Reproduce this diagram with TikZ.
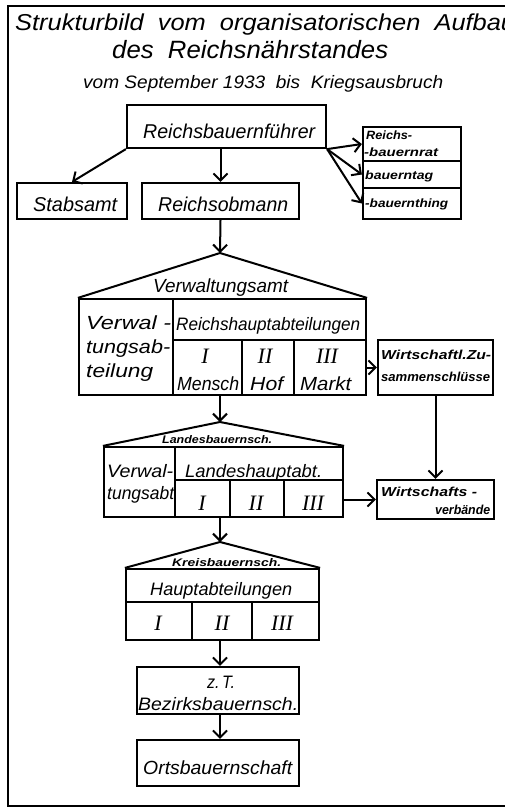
\documentclass[tikz,border=0pt]{standalone}
\usepackage{fontspec}
\setmainfont{Liberation Sans}
\newfontfamily\numfont{Liberation Serif}
\usetikzlibrary{arrows.meta}
\newcommand{\fw}[2]{\resizebox{#1}{\height}{#2}}
\newcommand{\fsz}[1]{\fontsize{#1}{#1}\selectfont\itshape}
\begin{document}
\begin{tikzpicture}[x=1pt,y=-1pt,
  box/.style={draw,line width=2.2pt,inner sep=0pt,rectangle},
  tx/.style={inner sep=0pt,anchor=base west},
  tc/.style={inner sep=0pt,anchor=base},
  num/.style={inner sep=0pt,anchor=base,font=\numfont\fsz{22}},
  arr/.style={line width=2pt,-{Straight Barb[length=7pt,width=14pt,line width=2pt]}},
  ln/.style={line width=2pt}]
\useasboundingbox (0,0) rectangle (505,811);
% frame
\draw[line width=2.2pt] (520,6) -- (8,6) -- (8,806) -- (520,806);
% title
\node[tx,font=\fsz{23}] (t1) at (15,30) {\fw{500pt}{Strukturbild\ \ vom\ \ organisatorischen\ \ Aufbau}};
\node[tx,font=\fsz{25}] (t2) at (112,58) {\fw{276pt}{des\ \ Reichsnährstandes}};
\node[tx,font=\fsz{18}] (t3) at (83,88) {\fw{360pt}{vom September 1933\ \ bis\ \ Kriegsausbruch}};
% top boxes
\node[box,minimum width=199pt,minimum height=43pt] (rbf) at (226.5,126.5) {};
\node[box,minimum width=110pt,minimum height=36pt] (stab) at (72,201) {};
\node[box,minimum width=157pt,minimum height=36pt] (rob) at (220.5,201) {};
\node[box,minimum width=98pt,minimum height=34pt] (rat) at (412,144) {};
\node[box,minimum width=98pt,minimum height=27pt] (tag) at (412,174.5) {};
\node[box,minimum width=98pt,minimum height=31pt] (thing) at (412,203.5) {};
\node[tx,font=\fsz{20}] (rbf-t) at (143,138) {\fw{172pt}{Reichsbauernführer}};
\node[tx,font=\fsz{20}] (stab-t) at (33,211) {\fw{84pt}{Stabsamt}};
\node[tx,font=\fsz{20}] (rob-t) at (158,211) {\fw{130pt}{Reichsobmann}};
\node[tx,font=\bfseries\fsz{12}] (rat-t1) at (366,139) {\fw{46pt}{Reichs-}};
\node[tx,font=\bfseries\fsz{12}] (rat-t2) at (364,156) {\fw{74pt}{-bauernrat}};
\node[tx,font=\bfseries\fsz{12}] (tag-t) at (365,179) {\fw{68pt}{bauerntag}};
\node[tx,font=\bfseries\fsz{12}] (thing-t) at (365,207) {\fw{83pt}{-bauernthing}};
\draw[arr] (rbf.south west) -- (stab.north);
\draw[arr] (rbf.south -| rob.north) -- (rob.north);
\draw[arr] (rbf.south east) -- (rat.west);
\draw[arr] (rbf.south east) -- (tag.west);
\draw[arr] (rbf.south east) -- (thing.west);
% Verwaltungsamt
\coordinate (vaTop) at (220,253);
\node[box,minimum width=287pt,minimum height=96pt] (va) at (222.5,347) {};
\node[box,minimum width=94pt,minimum height=96pt] (vaL) at (126,347) {};
\node[box,minimum width=193pt,minimum height=41pt] (vaH) at (269.5,319.5) {};
\node[box,minimum width=69pt,minimum height=55pt] (vaI) at (207.5,367.5) {};
\node[box,minimum width=52pt,minimum height=55pt] (vaII) at (268,367.5) {};
\node[box,minimum width=72pt,minimum height=55pt] (vaIII) at (330,367.5) {};
\draw[ln,line join=round] (va.north west) -- (vaTop) -- (va.north east);
\draw[arr] (rob.south) -- (vaTop);
\node[tx,font=\fsz{19}] (va-t) at (153,292) {\fw{135pt}{Verwaltungsamt}};
\node[tx,font=\fsz{19}] (vaL-t1) at (86,329) {\fw{85pt}{Verwal -}};
\node[tx,font=\fsz{19}] (vaL-t2) at (86,353) {\fw{84pt}{tungsab-}};
\node[tx,font=\fsz{19}] (vaL-t3) at (86,377) {\fw{67pt}{teilung}};
\node[tx,font=\fsz{18}] (vaH-t) at (176,330) {\fw{184pt}{Reichshauptabteilungen}};
\node[num] (vaI-n) at (205,363) {I};
\node[num] (vaII-n) at (265,363) {II};
\node[num] (vaIII-n) at (327,363) {III};
\node[tx,font=\fsz{19}] (vaI-t) at (177,390) {\fw{62pt}{Mensch}};
\node[tx,font=\fsz{19}] (vaII-t) at (250,390) {\fw{33pt}{Hof}};
\node[tx,font=\fsz{19}] (vaIII-t) at (300,390) {\fw{51pt}{Markt}};
% Wirtschaftl. Zusammenschluesse
\node[box,minimum width=115pt,minimum height=55pt] (wz) at (435.5,367.5) {};
\node[tx,font=\bfseries\fsz{13}] (wz-t1) at (381,359) {\fw{110pt}{Wirtschaftl.Zu-}};
\node[tx,font=\bfseries\fsz{13}] (wz-t2) at (381,381) {\fw{109pt}{sammenschlüsse}};
\draw[arr] (wz.west -| va.east) -- (wz.west);
% Landesbauernschaft
\coordinate (laTop) at (220,422);
\node[box,minimum width=239pt,minimum height=70pt] (la) at (223.5,482) {};
\node[box,minimum width=71pt,minimum height=70pt] (laL) at (139.5,482) {};
\node[box,minimum width=168pt,minimum height=33pt] (laH) at (259,463.5) {};
\node[box,minimum width=55pt,minimum height=37pt] (laI) at (202.5,498.5) {};
\node[box,minimum width=54pt,minimum height=37pt] (laII) at (257,498.5) {};
\node[box,minimum width=59pt,minimum height=37pt] (laIII) at (313.5,498.5) {};
\draw[ln,line join=round] (la.north west) -- (laTop) -- (la.north east);
\draw[arr] (va.south -| vaTop) -- (laTop);
\node[tx,font=\bfseries\fsz{11}] (la-t) at (162,443) {\fw{110pt}{Landesbauernsch.}};
\node[tx,font=\fsz{18}] (laL-t1) at (107,477) {\fw{66pt}{Verwal-}};
\node[tx,font=\fsz{18}] (laL-t2) at (107,499) {\fw{67pt}{tungsabt}};
\node[tx,font=\fsz{18}] (laH-t) at (185,477) {\fw{137pt}{Landeshauptabt.}};
\node[num] (laI-n) at (202,510) {I};
\node[num] (laII-n) at (256,510) {II};
\node[num] (laIII-n) at (313,510) {III};
% Wirtschaftsverbaende
\node[box,minimum width=117pt,minimum height=39pt] (wv) at (435.5,499.5) {};
\node[tx,font=\bfseries\fsz{13}] (wv-t1) at (381,496) {\fw{96pt}{Wirtschafts -}};
\node[tx,font=\bfseries\fsz{13}] (wv-t2) at (435,514) {\fw{55pt}{verbände}};
\draw[arr] (wz.south) -- (wv.north);
\draw[arr] (wv.west -| la.east) -- (wv.west);
% Kreisbauernschaft
\coordinate (krTop) at (220,542);
\node[box,minimum width=193pt,minimum height=71pt] (kr) at (222.5,604.5) {};
\node[box,minimum width=193pt,minimum height=33pt] (krH) at (222.5,585.5) {};
\node[box,minimum width=66pt,minimum height=38pt] (krI) at (159,621) {};
\node[box,minimum width=60pt,minimum height=38pt] (krII) at (222,621) {};
\node[box,minimum width=67pt,minimum height=38pt] (krIII) at (285.5,621) {};
\draw[ln,line join=round] (kr.north west) -- (krTop) -- (kr.north east);
\draw[arr] (la.south -| laTop) -- (krTop);
\node[tx,font=\bfseries\fsz{11}] (kr-t) at (172,566) {\fw{109pt}{Kreisbauernsch.}};
\node[tx,font=\fsz{18}] (krH-t) at (150,595) {\fw{142pt}{Hauptabteilungen}};
\node[num] (krI-n) at (158,630) {I};
\node[num] (krII-n) at (222,630) {II};
\node[num] (krIII-n) at (282,630) {III};
% lower boxes
\node[box,minimum width=162pt,minimum height=47pt] (zt) at (218,690.5) {};
\node[box,minimum width=162pt,minimum height=46pt] (ob) at (218,763) {};
\node[tc,font=\fsz{18}] (zt-t1) at (221,688) {\fw{28pt}{z.\,T.}};
\node[tx,font=\fsz{18}] (zt-t2) at (138,710) {\fw{160pt}{Bezirksbauernsch.}};
\node[tx,font=\fsz{19}] (ob-t) at (143,774) {\fw{149pt}{Ortsbauernschaft}};
\draw[arr] (kr.south -| krTop) -- (zt.north -| krTop);
\draw[arr] (zt.south -| krTop) -- (ob.north -| krTop);
\end{tikzpicture}
\end{document}
